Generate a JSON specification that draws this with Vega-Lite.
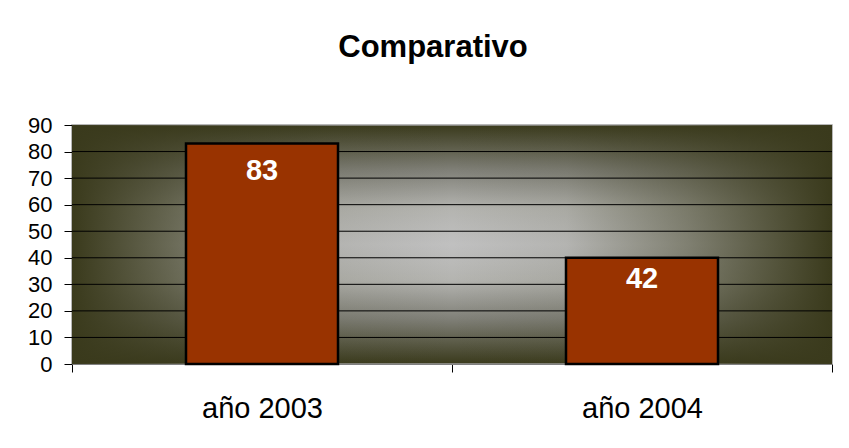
{
  "$schema": "https://vega.github.io/schema/vega-lite/v6.json",
  "autosize": "none",
  "width": 760,
  "height": 239,
  "padding": {"left": 72, "top": 125, "right": 17, "bottom": 84},
  "background": "white",
  "title": {
    "text": "Comparativo",
    "font": "Liberation Sans",
    "fontSize": 31,
    "fontWeight": "bold",
    "color": "black",
    "baseline": "alphabetic",
    "offset": 26,
    "dx": -19
  },
  "data": {
    "values": [
      {"periodo": "año 2003", "valor": 83, "etiqueta": 83},
      {"periodo": "año 2004", "valor": 40, "etiqueta": 42}
    ]
  },
  "layer": [
    {
      "data": {"values": [{"fondo": "degradado"}]},
      "mark": {
        "type": "rect",
        "color": {
          "gradient": "linear",
          "x1": 0, "y1": 0, "x2": 1, "y2": 0,
          "stops": [
            {"offset": 0, "color": "rgba(58,58,28,1)"},
            {"offset": 0.19, "color": "rgba(58,58,28,0.48)"},
            {"offset": 0.35, "color": "rgba(58,58,28,0.09)"},
            {"offset": 0.5, "color": "rgba(58,58,28,0)"},
            {"offset": 0.65, "color": "rgba(58,58,28,0.09)"},
            {"offset": 0.81, "color": "rgba(58,58,28,0.48)"},
            {"offset": 1, "color": "rgba(58,58,28,1)"}
          ]
        }
      },
      "encoding": {
        "y": {"datum": 0, "type": "quantitative", "scale": {"domain": [0, 90]},
          "axis": {"title": null, "values": [0, 10, 20, 30, 40, 50, 60, 70, 80, 90], "labelFont": "Liberation Sans", "labelFontSize": 22, "labelColor": "black", "labelPadding": 12, "tickSize": 8, "tickColor": "black", "domainColor": "#808080", "grid": false}},
        "y2": {"datum": 90}
      }
    },
    {
      "data": {"values": [{"nivel": 10}, {"nivel": 20}, {"nivel": 30}, {"nivel": 40}, {"nivel": 50}, {"nivel": 60}, {"nivel": 70}, {"nivel": 80}]},
      "mark": {"type": "rule", "color": "black", "strokeWidth": 1},
      "encoding": {
        "y": {"field": "nivel", "type": "quantitative",
          "axis": {"title": null, "values": [0, 10, 20, 30, 40, 50, 60, 70, 80, 90], "labelFont": "Liberation Sans", "labelFontSize": 22, "labelColor": "black", "labelPadding": 12, "tickSize": 8, "tickColor": "black", "domainColor": "#808080", "grid": false}}
      }
    },
    {
      "mark": {"type": "bar", "color": "#993300", "stroke": "black", "strokeWidth": 2.5, "width": {"band": 0.4}},
      "encoding": {
        "x": {"field": "periodo", "type": "nominal", "sort": null,
          "scale": {"paddingInner": 0, "paddingOuter": 0},
          "axis": {"title": null, "labelAngle": 0, "labelFont": "Liberation Sans", "labelFontSize": 29, "labelColor": "black", "labelBaseline": "alphabetic", "labelPadding": 45, "tickBand": "extent", "tickSize": 8, "tickColor": "black", "domainColor": "#808080", "grid": false}},
        "y": {"field": "valor", "type": "quantitative",
          "axis": {"title": null, "values": [0, 10, 20, 30, 40, 50, 60, 70, 80, 90], "labelFont": "Liberation Sans", "labelFontSize": 22, "labelColor": "black", "labelPadding": 12, "tickSize": 8, "tickColor": "black", "domainColor": "#808080", "grid": false}}
      }
    },
    {
      "mark": {"type": "text", "color": "white", "font": "Liberation Sans", "fontSize": 29, "fontWeight": "bold", "baseline": "alphabetic", "dy": 36},
      "encoding": {
        "x": {"field": "periodo", "type": "nominal", "sort": null,
          "axis": {"title": null, "labelAngle": 0, "labelFont": "Liberation Sans", "labelFontSize": 29, "labelColor": "black", "labelBaseline": "alphabetic", "labelPadding": 45, "tickBand": "extent", "tickSize": 8, "tickColor": "black", "domainColor": "#808080", "grid": false}},
        "y": {"field": "etiqueta", "type": "quantitative",
          "axis": {"title": null, "values": [0, 10, 20, 30, 40, 50, 60, 70, 80, 90], "labelFont": "Liberation Sans", "labelFontSize": 22, "labelColor": "black", "labelPadding": 12, "tickSize": 8, "tickColor": "black", "domainColor": "#808080", "grid": false}},
        "text": {"field": "etiqueta", "type": "quantitative"}
      }
    }
  ],
  "config": {
    "view": {
      "fill": {
        "gradient": "linear",
        "x1": 0, "y1": 0, "x2": 0, "y2": 1,
        "stops": [
          {"offset": 0, "color": "#3a3a1c"},
          {"offset": 0.19, "color": "#808078"},
          {"offset": 0.35, "color": "#b4b4b0"},
          {"offset": 0.5, "color": "#c0c0c0"},
          {"offset": 0.65, "color": "#b4b4b0"},
          {"offset": 0.81, "color": "#808078"},
          {"offset": 1, "color": "#3a3a1c"}
        ]
      },
      "stroke": "#a0a0a0",
      "strokeWidth": 1.5
    }
  }
}
